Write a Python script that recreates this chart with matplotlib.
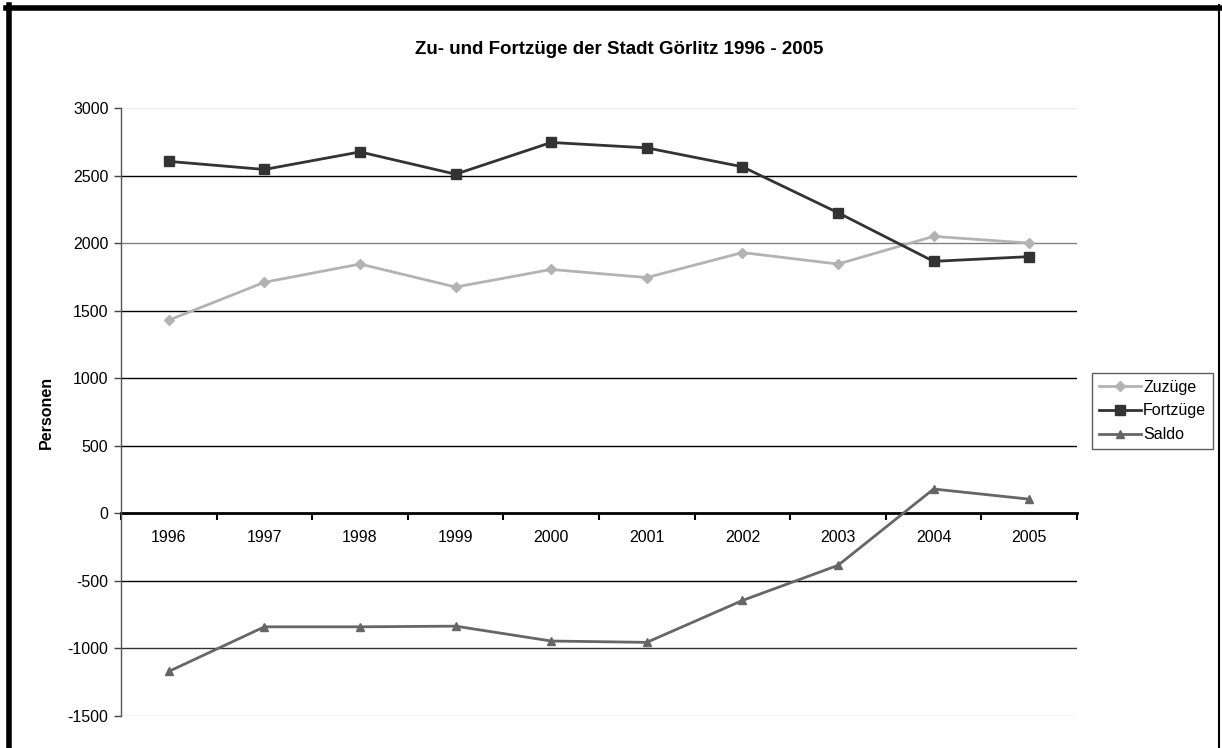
import matplotlib.pyplot as plt
from matplotlib.lines import Line2D

years = ['1996', '1997', '1998', '1999', '2000', '2001', '2002', '2003', '2004', '2005']
zuzuege = [1430, 1710, 1845, 1675, 1805, 1745, 1930, 1845, 2050, 2000]
fortzuege = [2605, 2545, 2675, 2510, 2745, 2705, 2565, 2225, 1865, 1900]
saldo = [-1170, -840, -840, -835, -945, -955, -645, -385, 180, 105]
y_ticks = [-1500, -1000, -500, 0, 500, 1000, 1500, 2000, 2500, 3000]

plt.rcParams['font.family'] = ['Liberation Sans', 'DejaVu Sans']

fig = plt.figure(figsize=(12.22, 7.48), dpi=100)
ax = fig.add_axes([121 / 1222, 1 - 716 / 748, 956 / 1222, 608 / 748])

# gridlines, Excel-ish shades
grid_colors = {3000: '#eeeeee', 2500: 'black', 2000: '#808080', 1500: 'black',
               1000: 'black', 500: 'black', -500: 'black', -1000: '#333333',
               -1500: '#cccccc'}
for v, c in grid_colors.items():
    ax.axhline(v, color=c, lw=1, zorder=1)

x = range(len(years))
ax.plot(x, zuzuege, color='#b3b3b3', lw=2, marker='D', ms=5, label='Zuzüge', zorder=3)
ax.plot(x, fortzuege, color='#333333', lw=2, marker='s', ms=7, label='Fortzüge', zorder=3)
ax.plot(x, saldo, color='#666666', lw=2, marker='^', ms=6, label='Saldo', zorder=3)

ax.set_xlim(-0.5, len(years) - 0.5)
ax.set_ylim(-1500, 3000)
ax.set_yticks(y_ticks)
ax.set_yticklabels([str(v) for v in y_ticks], fontsize=11.5)

ax.set_xticks(list(x))
ax.set_xticklabels(years, fontsize=11.5)
ax.set_xticks([i - 0.5 for i in range(len(years) + 1)], minor=True)
ax.tick_params(axis='x', which='major', length=0, pad=12, labelsize=11.5)
ax.tick_params(axis='x', which='minor', length=5, width=1.5, direction='out', color='black')
ax.tick_params(axis='y', length=5, width=1, color='#444444', pad=4)

for s in ['top', 'right']:
    ax.spines[s].set_visible(False)
ax.spines['bottom'].set_position(('data', 0))
ax.spines['bottom'].set_linewidth(2)
ax.spines['bottom'].set_zorder(2)
ax.spines['left'].set_color('#555555')
ax.spines['left'].set_linewidth(1)

ax.set_ylabel('Personen', fontsize=11.5, fontweight='bold', labelpad=10)
fig.text(619.5 / 1222, 1 - 50 / 748, 'Zu- und Fortzüge der Stadt Görlitz 1996 - 2005',
         ha='center', va='center', fontsize=13.5, fontweight='bold')

leg = fig.legend(loc='center left', bbox_to_anchor=(1092 / 1222, 1 - 411 / 748), frameon=True,
                 fancybox=False, edgecolor='#333333', fontsize=11.5, handlelength=2.6,
                 handletextpad=0.15, borderpad=0.45, labelspacing=0.55, borderaxespad=0)
leg.get_frame().set_linewidth(1)

# chart border
fig.add_artist(Line2D([6 / 1222, 1220 / 1222], [1 - 7.5 / 748] * 2, color='black', lw=4, transform=fig.transFigure))
fig.add_artist(Line2D([8.5 / 1222] * 2, [0, 1 - 5 / 748], color='black', lw=4, transform=fig.transFigure))
fig.add_artist(Line2D([1219 / 1222] * 2, [0, 1 - 5 / 748], color='black', lw=1.5, transform=fig.transFigure))

fig.savefig('out.png', dpi=100)
